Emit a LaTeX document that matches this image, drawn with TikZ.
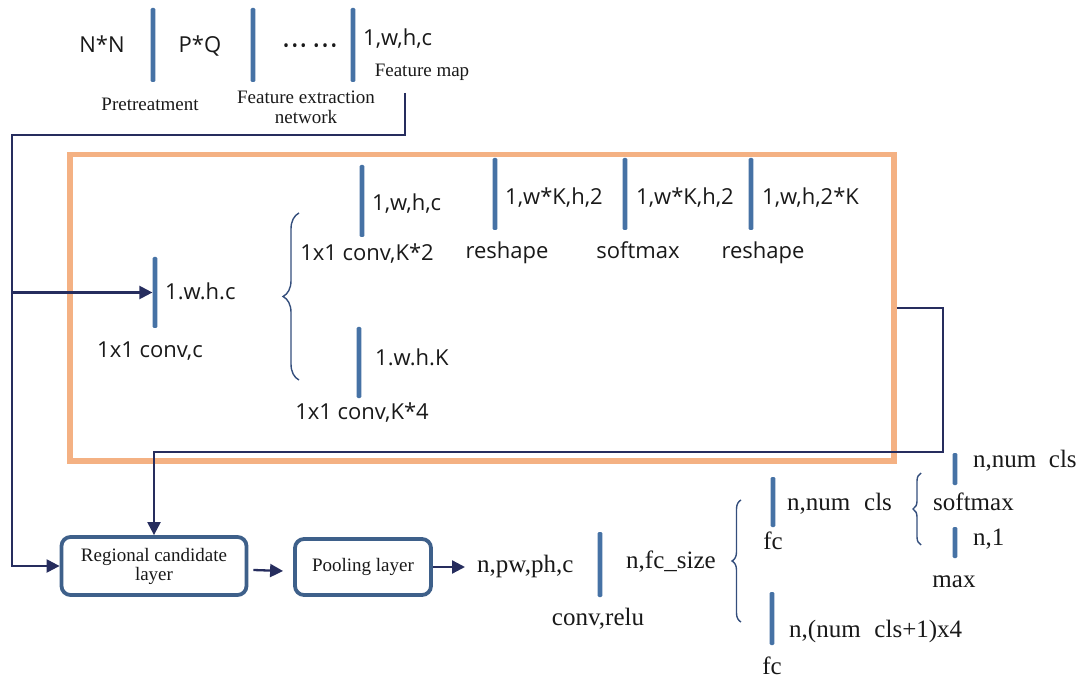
\documentclass[tikz,border=0pt]{standalone}
\usepackage{fontspec}
\usepackage{graphicx}
\setmainfont{Liberation Serif}
\newfontfamily\osans{Open Sans}
\usetikzlibrary{arrows.meta,decorations.pathreplacing}
\definecolor{barblue}{RGB}{70,114,165}
\definecolor{navyc}{RGB}{38,45,94}
\definecolor{boxblue}{RGB}{62,96,138}
\definecolor{orng}{RGB}{244,177,131}
\definecolor{bracec}{RGB}{52,78,124}
\definecolor{txt}{RGB}{25,25,25}
\begin{document}
\begin{tikzpicture}[x=1pt,y=-1pt,
  bar/.style={fill=barblue, draw=none, minimum width=4.8pt, inner sep=0pt, rounded corners=1.2pt},
  sl/.style={font=\osans\fontsize{22}{24}\selectfont, inner sep=0pt, text=txt, text height=0.72em, text depth=0.2em},
  sr/.style={font=\fontsize{19}{20}\selectfont, inner sep=0pt, text=txt, align=center},
  br/.style={font=\fontsize{25}{26}\selectfont, inner sep=0pt, text=txt, text height=0.68em, text depth=0.2em},
  conn/.style={draw=navyc, line width=2.3pt},
  arr/.style={conn, -{Triangle[length=13pt,width=13pt]}},
  box/.style={draw=boxblue, line width=3.8pt, rounded corners=9pt, fill=white, font=\fontsize{19}{19}\selectfont, align=center, text=txt, inner sep=0pt},
  obox/.style={draw=orng, line width=5.5pt, inner sep=0pt},
  brc/.style={draw=bracec, line width=1.4pt, decorate, decoration={brace, amplitude=#1}}
]
\useasboundingbox (0,0) rectangle (1089,684);

% ---------- top row ----------
\node[bar, minimum height=74pt] (t1) at (153,45) {};
\node[bar, minimum height=74pt] (t2) at (253,45) {};
\node[bar, minimum height=74pt] (t3) at (353,45) {};
\node[sl] (nn) at (102,50) {N*N};
\node[sl] (pq) at (200,50) {P*Q};
\node[inner sep=0pt, text=txt, font=\osans\fontsize{16}{16}\selectfont] (dots) at (310,48) {•\,•\,•\hspace{7pt}•\,•\,•};
\node[sl, anchor=west] (fm1) at (363,43) {1,w,h,c};
\node[sr] (fmlab) at (422,72) {Feature map};
\node[sr] (pre) at (150,104) {Pretreatment};
\node[sr] (fen) at (306,107) {Feature extraction\\network};

% ---------- RPN frame ----------
\node[obox, minimum width=824pt, minimum height=306.5pt] (rpn) at (482,307.75) {};

\node[bar, minimum height=71pt] (c1) at (155,292.5) {};
\node[sl, anchor=west] (c1t) at (165,297) {1.w.h.c};
\node[sl] (c1l) at (150,355) {1x1 conv,c};

\draw[brc=16pt] (299,380) -- (299,213);

\node[bar, minimum height=72pt] (k2) at (362,201) {};
\node[sl, anchor=west] (k2t) at (372,208) {1,w,h,c};
\node[sl] (k2l) at (367,258) {1x1 conv,K*2};

\node[bar, minimum height=71pt] (k4) at (359,362.5) {};
\node[sl, anchor=west] (k4t) at (375,363) {1.w.h.K};
\node[sl] (k4l) at (362,417) {1x1 conv,K*4};

\node[bar, minimum height=72pt] (r1) at (495,194) {};
\node[sl, anchor=west] (r1t) at (505,202) {1,w*K,h,2};
\node[sl] (r1l) at (507,256) {reshape};

\node[bar, minimum height=72pt] (s1) at (625,194) {};
\node[sl, anchor=west] (s1t) at (636,202) {1,w*K,h,2};
\node[sl] (s1l) at (638,256) {softmax};

\node[bar, minimum height=72pt] (r2) at (751,194) {};
\node[sl, anchor=west] (r2t) at (762,202) {1,w,h,2*K};
\node[sl] (r2l) at (763,256) {reshape};

% ---------- bottom row ----------
\node[box, minimum width=185pt, minimum height=58pt] (rcl) at (154,566) {Regional candidate\\layer};
\node[box, minimum width=136pt, minimum height=56pt] (pool) at (363,567) {Pooling layer};
\node[br, anchor=west] (npw) at (477,570) {n,pw,ph,c};

\node[bar, minimum height=65pt] (cv) at (600,564.5) {};
\node[br, anchor=west] (fcs) at (626,566) {n,fc\_size};
\node[br] (cvl) at (598,623) {conv,relu};

\draw[brc=9pt] (741,622) -- (741,500);

\node[bar, minimum height=50pt] (f1) at (773,502) {};
\node[br, anchor=west] (f1t) at (787,508) {n,num\hspace{0.55em}cls};
\node[br] (f1l) at (773,547) {fc};

\node[bar, minimum height=53pt] (f2) at (772,618.5) {};
\node[br, anchor=west] (f2t) at (789,635) {n,(num\hspace{0.55em}cls+1)x4};
\node[br] (f2l) at (772,672) {fc};

\draw[brc=8pt] (921,545) -- (921,473);
\node[br, anchor=west] (smx) at (933,508) {softmax};
\node[bar, minimum height=32pt] (g1) at (955,469) {};
\node[br, anchor=west] (g1t) at (973,465) {n,num\hspace{0.5em}cls};
\node[bar, minimum height=31pt] (g2) at (955,542.5) {};
\node[br, anchor=west] (g2t) at (973,543) {n,1};
\node[br] (mx) at (954,585) {max};

% ---------- connectors ----------
\coordinate (fmout) at (405,93);
\coordinate (ca) at (405,135);
\coordinate (cb) at (12,135);
\coordinate (cc) at (12,566);
\coordinate (cd) at (12,292.5);
\draw[arr] (fmout) -- (ca) -- (cb) -- (cc) -- (rcl.west);
\draw[arr] (cd) -- (c1.west);

\coordinate (ra) at (943,307.75);
\coordinate (rb) at (943,452);
\coordinate (rc) at (154,452);
\draw[arr] (rpn.east) -- (ra) -- (rb) -- (rc) -- (rcl.north);

\draw[arr] ([xshift=5pt,yshift=-4pt]rcl.east) -- ([xshift=-10pt,yshift=-4pt]pool.west);
\draw[arr] (pool.east) -- ([xshift=-12pt]npw.west |- pool.east);
\end{tikzpicture}
\end{document}
